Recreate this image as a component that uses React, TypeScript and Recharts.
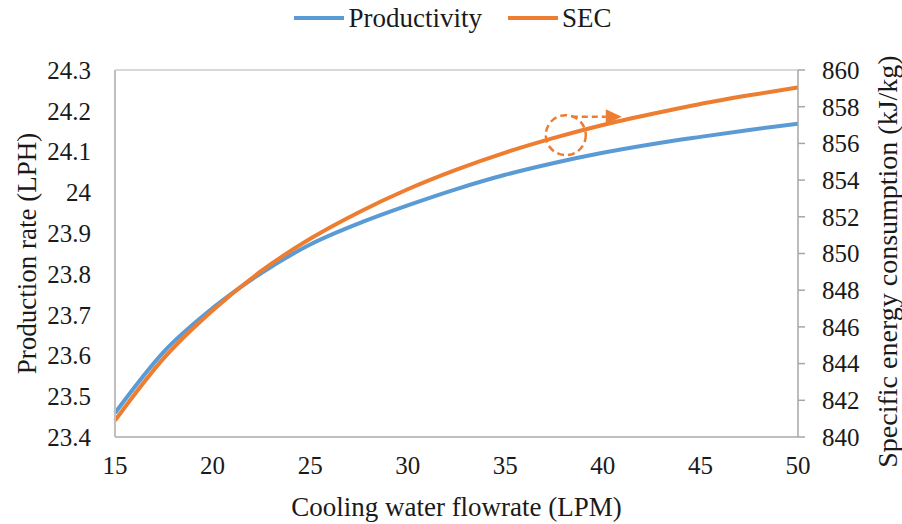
import React from 'react'
import { Line, LineChart, ReferenceDot, ReferenceLine, XAxis, YAxis } from 'recharts'

const FLOW = [15, 17.5, 20, 22.5, 25, 27.5, 30, 32.5, 35, 37.5, 40, 42.5, 45, 47.5, 50]
const PRODUCTIVITY = [
  23.459, 23.609, 23.716, 23.802, 23.872, 23.924, 23.968, 24.008, 24.043, 24.072, 24.097, 24.118,
  24.136, 24.153, 24.168,
]
const SEC = [
  840.9, 844.3, 846.9, 849.05, 850.8, 852.25, 853.5, 854.57, 855.5, 856.3, 857.0, 857.6, 858.15,
  858.62, 859.05,
]

const X_TICKS = [15, 20, 25, 30, 35, 40, 45, 50]
const LEFT_TICKS = [23.4, 23.5, 23.6, 23.7, 23.8, 23.9, 24, 24.1, 24.2, 24.3]
const RIGHT_TICKS = [840, 842, 844, 846, 848, 850, 852, 854, 856, 858, 860]

// where the dashed circle sits on the SEC curve
const MARK_X = 38.1
const MARK_Y = 856.45

const BLUE = '#5b9bd5'
const ORANGE = '#ed7d31'
const FONT = 'Liberation Serif, Tinos, "DejaVu Serif", serif'
const TEXT = '#1a1a1a'

const data = FLOW.map((f, i) => ({ flow: f, prod: PRODUCTIVITY[i], sec: SEC[i] }))

const tickStyle = { fontSize: 25, fill: TEXT, fontFamily: FONT }
const titleStyle = { fontSize: 27, fill: TEXT, fontFamily: FONT }

function MarkShape(props: any) {
  const { cx, cy } = props
  const ay = cy - 18.5
  return (
    <g>
      <circle
        cx={cx}
        cy={cy}
        r={20}
        fill="none"
        stroke={ORANGE}
        strokeWidth={2.5}
        strokeDasharray="7 4"
      />
      <line x1={cx + 6} y1={ay} x2={cx + 40} y2={ay} stroke={ORANGE} strokeWidth={2.5} strokeDasharray="6 4" />
      <polygon points={`${cx + 40},${ay - 7.5} ${cx + 56},${ay} ${cx + 40},${ay + 7.5}`} fill={ORANGE} />
    </g>
  )
}

function LegendItem({ color, label }: { color: string; label: string }) {
  return (
    <span style={{ display: 'inline-flex', alignItems: 'center', gap: 4 }}>
      <span style={{ width: 50, height: 4, background: color, display: 'inline-block' }} />
      <span>{label}</span>
    </span>
  )
}

export default function App() {
  return (
    <div style={{ position: 'absolute', left: 0, top: 0, width: 902, height: 524, background: '#fff' }}>
      <div
        style={{
          position: 'absolute',
          left: 0,
          top: 1,
          width: 906,
          display: 'flex',
          justifyContent: 'center',
          gap: 26,
          fontFamily: FONT,
          fontSize: 27,
          color: TEXT,
          lineHeight: '34px',
        }}
      >
        <LegendItem color={BLUE} label="Productivity" />
        <LegendItem color={ORANGE} label="SEC" />
      </div>
      <LineChart width={902} height={524} data={data} margin={{ top: 70, right: 0, bottom: 0, left: 0 }}>
        <XAxis
          dataKey="flow"
          type="number"
          domain={[15, 50]}
          ticks={X_TICKS}
          interval={0}
          height={87}
          tickLine={false}
          tickSize={0}
          tickMargin={19}
          axisLine={{ stroke: '#bfbfbf', strokeWidth: 2 }}
          tick={tickStyle}
          label={({ viewBox }: any) => (
            <text
              x={viewBox.x + viewBox.width / 2}
              y={viewBox.y + 70}
              textAnchor="middle"
              dominantBaseline="central"
              style={titleStyle}
            >
              Cooling water flowrate (LPM)
            </text>
          )}
        />
        <YAxis
          yAxisId="left"
          domain={[23.4, 24.3]}
          ticks={LEFT_TICKS}
          interval={0}
          width={115}
          tickLine={false}
          tickSize={0}
          tickMargin={24}
          axisLine={{ stroke: '#bfbfbf', strokeWidth: 2 }}
          tick={tickStyle}
          label={({ viewBox }: any) => {
            const cx = viewBox.x + 27
            const cy = viewBox.y + viewBox.height / 2
            return (
              <text
                x={cx}
                y={cy}
                textAnchor="middle"
                dominantBaseline="central"
                transform={`rotate(-90 ${cx} ${cy})`}
                style={titleStyle}
              >
                Production rate (LPH)
              </text>
            )
          }}
        />
        <YAxis
          yAxisId="right"
          orientation="right"
          domain={[840, 860]}
          ticks={RIGHT_TICKS}
          interval={0}
          width={104}
          tickSize={7}
          tickMargin={17}
          tickLine={{ stroke: '#a6a6a6', strokeWidth: 1.5 }}
          axisLine={{ stroke: '#a6a6a6', strokeWidth: 1.5 }}
          tick={tickStyle}
          label={({ viewBox }: any) => {
            const cx = viewBox.x + 89
            const cy = viewBox.y + viewBox.height / 2 + 8
            return (
              <text
                x={cx}
                y={cy}
                textAnchor="middle"
                dominantBaseline="central"
                transform={`rotate(-90 ${cx} ${cy})`}
                style={{ ...titleStyle, fontSize: 28 }}
              >
                Specific energy consumption (kJ/kg)
              </text>
            )
          }}
        />
        <ReferenceLine yAxisId="left" y={24.3} stroke="#d9d9d9" strokeWidth={2} />
        <Line
          yAxisId="left"
          type="monotone"
          dataKey="prod"
          name="Productivity"
          stroke={BLUE}
          strokeWidth={4}
          dot={false}
          isAnimationActive={false}
        />
        <Line
          yAxisId="right"
          type="monotone"
          dataKey="sec"
          name="SEC"
          stroke={ORANGE}
          strokeWidth={4}
          dot={false}
          isAnimationActive={false}
        />
        <ReferenceDot yAxisId="right" x={MARK_X} y={MARK_Y} r={20} shape={MarkShape} />
      </LineChart>
    </div>
  )
}
